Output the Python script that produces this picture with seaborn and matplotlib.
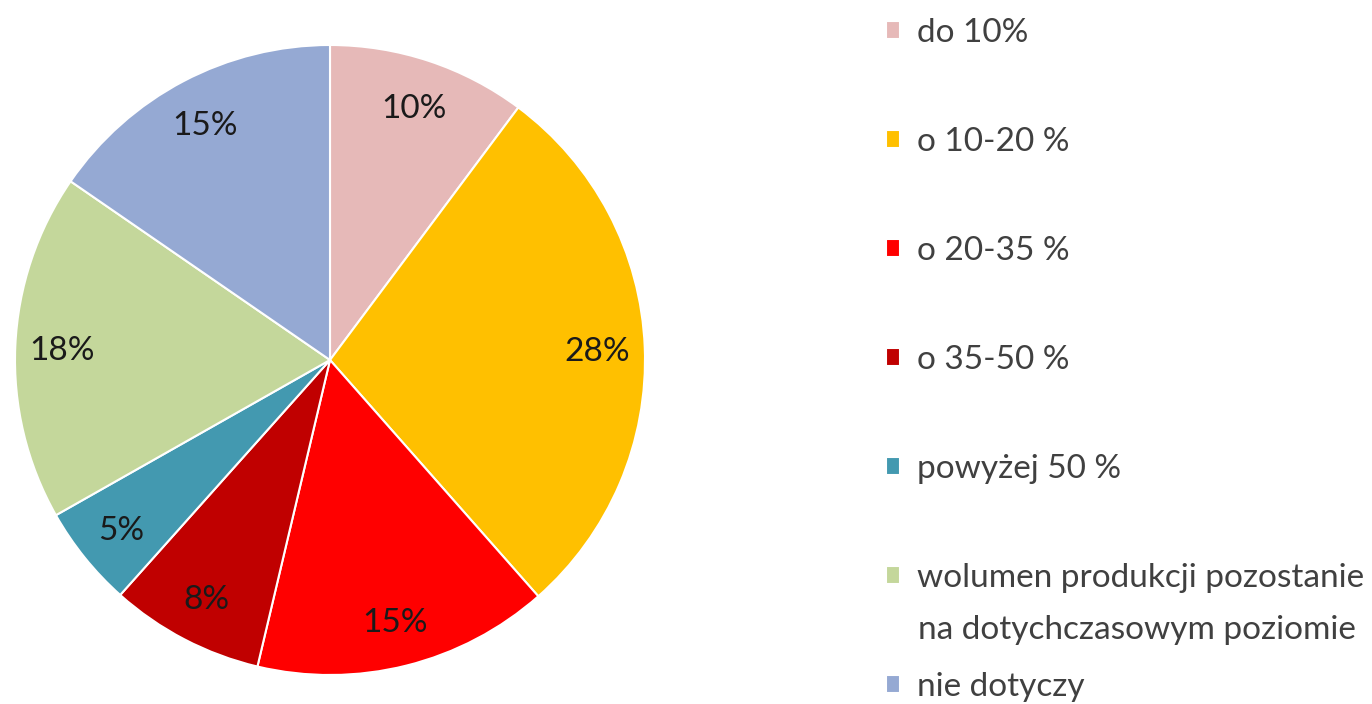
import matplotlib
matplotlib.use("Agg")
import seaborn as sns
from matplotlib import pyplot as plt

sns.set_theme(style="white")
plt.rcParams['font.family'] = ['Lato', 'DejaVu Sans']

labels = [
    "do 10%",
    "o 10-20 %",
    "o 20-35 %",
    "o 35-50 %",
    "powyżej 50 %",
    "wolumen produkcji pozostanie",
    "nie dotyczy",
]
label_cont = "na dotychczasowym poziomie"  # second line of the 6th label
shares = [10.2, 28.3, 15.2, 7.9, 5.2, 17.8, 15.4]
colors = ["#E6B9B8", "#FFC000", "#FF0000", "#C00000", "#4399B0", "#C4D79B", "#95A9D3"]

W, H = 1372, 704
FS = 24
fig = plt.figure(figsize=(W / 100, H / 100), dpi=100)
fig.patch.set_facecolor("white")

# pie area: centre (330, 360), radius 315 px
ax = fig.add_axes([15 / W, (H - 675) / H, 630 / W, 630 / H])
wedges, texts, autotexts = ax.pie(
    shares,
    colors=colors,
    startangle=90,
    counterclock=False,
    autopct="%.0f%%",
    pctdistance=0.85,
    wedgeprops=dict(edgecolor="white", linewidth=1.5),
    textprops=dict(fontsize=FS, color="#1a1a1a"),
)
for t in autotexts:
    t.set_va("center_baseline")
ax.set_xlim(-1, 1)
ax.set_ylim(-1, 1)
ax.set_aspect("equal")

common = dict(
    fontsize=FS,
    frameon=False,
    handlelength=0.42,
    handleheight=0.42,
    handletextpad=0.5,
    borderpad=0,
    borderaxespad=0,
    labelcolor="#404040",
)
leg1 = fig.legend(wedges[:6], labels[:6], loc="upper left",
                  bbox_to_anchor=(886 / W, 1 - 18 / H),
                  labelspacing=2.37, **common)
# last entry kept just inside the bottom edge
leg2 = fig.legend(wedges[6:], labels[6:], loc="lower left",
                  bbox_to_anchor=(886 / W, 2 / H), **common)

fig.text(918 / W, 1 - 630 / H, label_cont, fontsize=FS, color="#404040",
         ha="left", va="center")

fig.savefig("out.png", dpi=100)
